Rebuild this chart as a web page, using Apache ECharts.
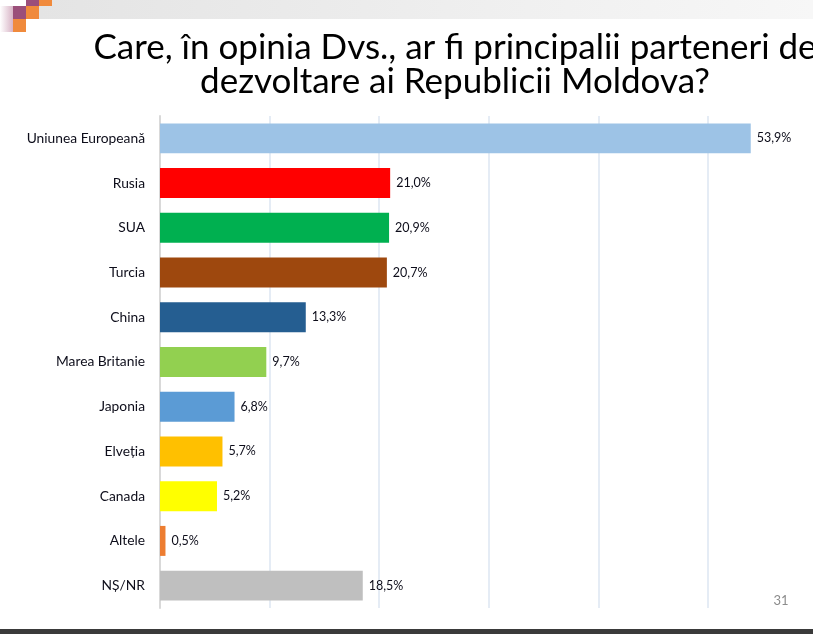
<!DOCTYPE html>
<html>
<head>
<meta charset="utf-8">
<script src="https://cdn.jsdelivr.net/npm/echarts@6/dist/echarts.min.js"></script>
<style>
  html, body { margin: 0; padding: 0; background: #fff; }
  #chart { width: 813px; height: 634px; }
</style>
</head>
<body>
<div id="chart"></div>
<script>
// categorii si valori (%)
var categories = ['Uniunea Europeană', 'Rusia', 'SUA', 'Turcia', 'China', 'Marea Britanie',
    'Japonia', 'Elveția', 'Canada', 'Altele', 'NȘ/NR'];
var values = [53.9, 21.0, 20.9, 20.7, 13.3, 9.7, 6.8, 5.7, 5.2, 0.5, 18.5];
var barColors = ['#9dc3e6', '#ff0000', '#00b050', '#9e480e', '#255e91', '#92d050',
    '#5b9bd5', '#ffc000', '#ffff00', '#ed7d31', '#bfbfbf'];
var titleLines = ['Care, în opinia Dvs., ar fi principalii parteneri de', 'dezvoltare ai Republicii Moldova?'];
var pageNo = '31';

var chart = echarts.init(document.getElementById('chart'));

var seriesData = [];
for (var i = 0; i < values.length; i++) {
    seriesData.push({ value: values[i], itemStyle: { color: barColors[i] } });
}

var option = {
    backgroundColor: '#fff',
    animation: false,
    textStyle: { fontFamily: 'Lato' },
    title: {
        text: titleLines.join('\n'),
        left: 450,
        top: 26,
        textAlign: 'center',
        textStyle: {
            fontFamily: 'Lato',
            fontSize: 35,
            fontWeight: 'normal',
            color: '#000',
            lineHeight: 34
        }
    },
    graphic: [
        // banda gri de sus
        { type: 'rect', shape: { x: 39, y: 0, width: 774, height: 19 }, silent: true,
          style: { fill: new echarts.graphic.LinearGradient(0, 0, 1, 0, [
              { offset: 0, color: '#e4e4e4' }, { offset: 1, color: '#f7f7f7' }]) } },
        // patratele decorative
        { type: 'rect', shape: { x: 0, y: 6, width: 13, height: 26 }, silent: true,
          style: { fill: new echarts.graphic.LinearGradient(0, 0, 1, 0, [
              { offset: 0, color: '#ffffff' }, { offset: 1, color: '#d8b4c6' }]) } },
        { type: 'rect', shape: { x: 13, y: 6, width: 13, height: 13 }, silent: true, style: { fill: '#9b4f7a' } },
        { type: 'rect', shape: { x: 26, y: 0, width: 13, height: 6 }, silent: true, style: { fill: '#9b4f7a' } },
        { type: 'rect', shape: { x: 39, y: 0, width: 13, height: 6 }, silent: true, style: { fill: '#f08a3c' } },
        { type: 'rect', shape: { x: 26, y: 6, width: 13, height: 13 }, silent: true, style: { fill: '#f08a3c' } },
        { type: 'rect', shape: { x: 13, y: 19, width: 13, height: 13 }, silent: true, style: { fill: '#f08a3c' } },
        // bara de jos
        { type: 'rect', shape: { x: 0, y: 629, width: 813, height: 5 }, silent: true, style: { fill: '#3a3a3a' } },
        // numar pagina
        { type: 'text', x: 781, y: 601, silent: true,
          style: { text: pageNo, fill: '#8c8c8c', font: '13px Lato', align: 'center', verticalAlign: 'middle' } }
    ],
    grid: {
        left: 160,
        top: 116,
        width: 657.6,
        height: 492,
        outerBoundsMode: 'none'
    },
    xAxis: {
        type: 'value',
        min: 0,
        max: 60,
        interval: 10,
        axisLine: { show: false },
        axisTick: { show: false },
        axisLabel: { show: false },
        splitLine: { lineStyle: { color: '#dce6f2', width: 1.5 } }
    },
    yAxis: {
        type: 'category',
        inverse: true,
        data: categories,
        axisLine: { show: true, lineStyle: { color: '#d9d9d9', width: 2 } },
        axisTick: { show: false },
        axisLabel: {
            margin: 15,
            fontFamily: 'Lato',
            fontSize: 13.8,
            color: '#0d0d1a'
        }
    },
    series: [{
        type: 'bar',
        data: seriesData,
        barCategoryGap: '33%',
        label: {
            show: true,
            position: 'right',
            distance: 6,
            fontFamily: 'Lato',
            fontSize: 12.5,
            color: '#0d0d1a',
            formatter: function (p) {
                return p.value.toFixed(1).replace('.', ',') + '%';
            }
        }
    }]
};

chart.setOption(option);
</script>
</body>
</html>
